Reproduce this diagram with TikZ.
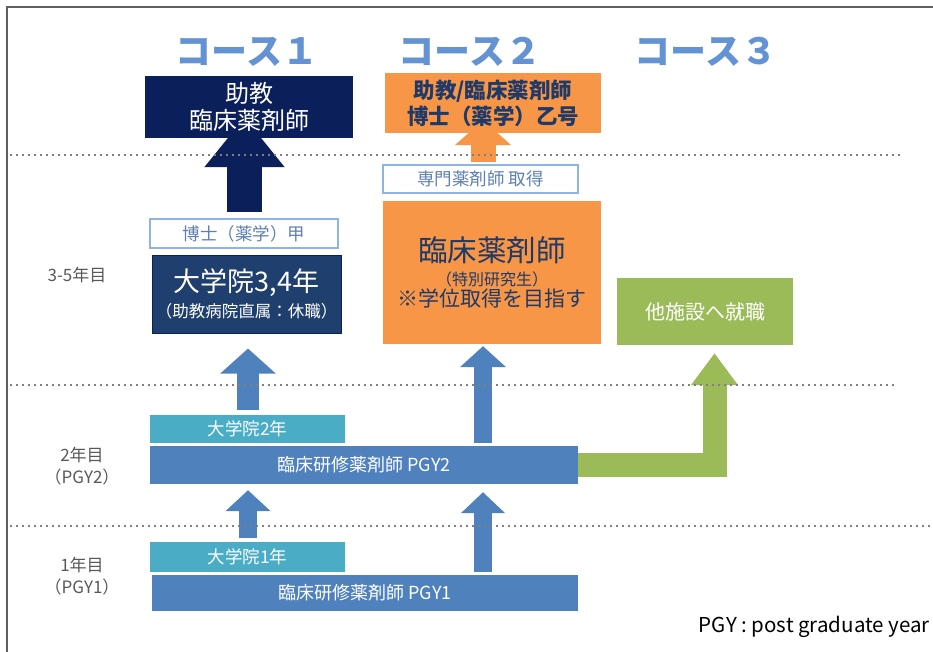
\documentclass[tikz,border=0pt]{standalone}
\usepackage{fontspec}
\setmainfont{Noto Sans CJK JP}
\usepackage{xcolor}
\usetikzlibrary{arrows.meta, calc}

\definecolor{navy}{HTML}{0B1F5A}
\definecolor{gradnavy}{HTML}{1F3F6E}
\definecolor{orangebg}{HTML}{F79646}
\definecolor{orangetext}{HTML}{1F3A68}
\definecolor{paleline}{HTML}{8EB4E3}
\definecolor{paletext}{HTML}{5F80B4}
\definecolor{tealbg}{HTML}{4BACC6}
\definecolor{bluebg}{HTML}{4F81BD}
\definecolor{greenbg}{HTML}{9BBB59}
\definecolor{coursetext}{HTML}{6393D3}
\definecolor{labeltext}{HTML}{595959}
\definecolor{framegray}{HTML}{606060}

\pgfdeclarelayer{bg}
\pgfsetlayers{bg,main}

\begin{document}
\begin{tikzpicture}[x=1pt, y=-1pt,
    every node/.style={inner sep=0pt, align=center},
    course/.style={text=coursetext, font=\fontsize{36}{40}\selectfont\bfseries},
    navybox/.style={fill=navy, text=white},
    orangebox/.style={fill=orangebg, text=orangetext},
    outlinebox/.style={draw=paleline, line width=1.2pt, fill=white, text=paletext,
        font=\fontsize{17.5}{20}\selectfont},
    tealbox/.style={fill=tealbg, text=white, font=\fontsize{17.5}{20}\selectfont},
    bluebox/.style={fill=bluebg, text=white, font=\fontsize{18}{20}\selectfont},
    yearlabel/.style={text=labeltext, font=\fontsize{17}{22}\selectfont},
    uparrow/.style n args={4}{draw=#1, line width=#2, -{Triangle[width=#3, length=#4]}},
    dotline/.style={draw=gray, line width=2.4pt, dash pattern=on 2.4pt off 3.6pt}]
    \useasboundingbox (0,0) rectangle (933,652);

    % frame
    \draw[framegray, line width=2pt] (7,652) -- (7,7) -- (933,7);

    % year borders
    \draw[dotline] (10,155) -- (900,155);
    \draw[dotline] (10,385) -- (895,385);
    \draw[dotline] (10,526) -- (930,526);

    % columns
    \coordinate (col1) at (248,0);
    \coordinate (col2) at (483,0);

    % course titles
    \node[course] (c1) at (247,52) {コース１};
    \node[course] (c2) at (470,52) {コース２};
    \node[course] (c3) at (706,52) {コース３};

    % top boxes
    \node[navybox, minimum width=208pt, minimum height=62pt,
        font=\fontsize{24}{27}\selectfont] (top1) at (249,107) {助教\\臨床薬剤師};
    \node[orangebox, minimum width=216pt, minimum height=60pt,
        font=\fontsize{21.5}{26}\selectfont\bfseries] (top2) at (493,103) {助教/臨床薬剤師\\博士（薬学）乙号};

    % 3-5 years
    \node[outlinebox, minimum width=188pt, minimum height=29pt] (phd) at (244,233.5) {博士（薬学）甲};
    \node[fill=gradnavy, draw=navy, line width=1pt, text=white, minimum width=189pt,
        minimum height=78pt] (grad34) at (246.5,294)
        {\fontsize{27}{29}\selectfont 大学院3,4年\\[5pt]\fontsize{16.5}{18}\selectfont （助教病院直属：休職）};
    \node[outlinebox, minimum width=195pt, minimum height=28pt] (spec) at (480.5,179) {専門薬剤師 取得};
    \node[orangebox, minimum width=218pt, minimum height=143pt] (clin) at (492,272.5)
        {\fontsize{29.5}{31}\selectfont 臨床薬剤師\\[6pt]
         \fontsize{16}{18}\selectfont （特別研究生）\\[1pt]
         \fontsize{21}{22}\selectfont ※学位取得を目指す};
    \node[fill=greenbg, text=white, minimum width=176pt, minimum height=67pt,
        font=\fontsize{20}{22}\selectfont] (job) at (705,311.5) {他施設へ就職};

    % PGY2
    \node[tealbox, minimum width=195pt, minimum height=28pt] (grad2) at (247.5,429) {大学院2年};
    \node[bluebox, minimum width=428pt, minimum height=38pt] (pgy2) at (364,465) {臨床研修薬剤師 PGY2};

    % PGY1
    \node[tealbox, minimum width=195pt, minimum height=30pt] (grad1) at (247.5,557) {大学院1年};
    \node[bluebox, minimum width=426pt, minimum height=36pt] (pgy1) at (365,593) {臨床研修薬剤師 PGY1};

    % year labels
    \node[yearlabel] (y35) at (77,275) {3-5年目};
    \node[yearlabel] (y2) at (82,466) {2年目\\（PGY2）};
    \node[yearlabel] (y1) at (82,576) {1年目\\（PGY1）};

    \node[anchor=east, font=\fontsize{20.5}{22}\selectfont] (note) at (930,627) {PGY : post graduate year};

    % arrows
    \begin{pgfonlayer}{bg}
    \draw[uparrow={navy}{35pt}{77pt}{50pt}] ($(phd.north)+(0.5,-6)$) -- ($(phd.north |- top1.south)+(0.5,-21)$);
    \draw[uparrow={orangebg}{25pt}{55pt}{25pt}] ($(col2 |- spec.north)+(0,-2)$) -- ($(col2 |- top2.south)+(0,-13)$);
    \draw[uparrow={bluebg}{22pt}{54pt}{25pt}] ($(col1 |- grad2.north)+(0,-5)$) -- ($(col1 |- grad34.south)+(0,15)$);
    \draw[uparrow={bluebg}{18pt}{45pt}{21pt}] ($(col2 |- pgy2.north)+(0,-3)$) -- ($(col2 |- clin.south)+(0,2)$);
    \draw[uparrow={bluebg}{18pt}{44pt}{21pt}] ($(col1 |- grad1.north)+(0,-4)$) -- ($(col1 |- pgy2.south)+(0,6)$);
    \draw[uparrow={bluebg}{18pt}{43pt}{21pt}] ($(col2 |- pgy1.north)+(0,-3)$) -- ($(col2 |- pgy2.south)+(0,8)$);
    \draw[uparrow={greenbg}{24pt}{45pt}{32pt}] (pgy2.east) -| ($(job.south)+(9.5,8)$);
    \end{pgfonlayer}
\end{tikzpicture}
\end{document}
